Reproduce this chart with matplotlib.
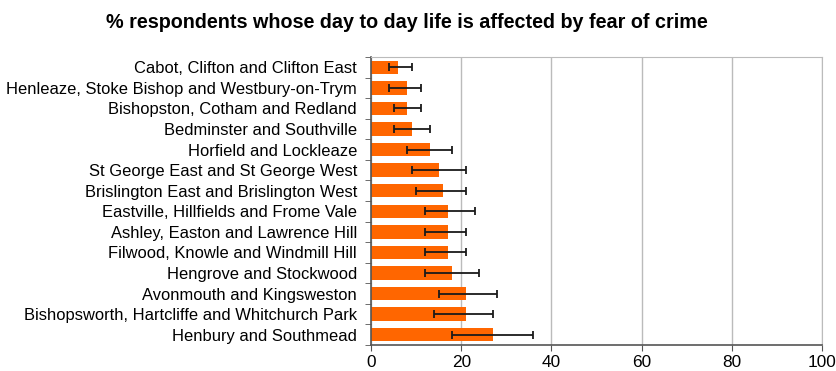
import matplotlib.pyplot as plt
import numpy as np

plt.rcParams['font.family'] = ['Liberation Sans', 'DejaVu Sans']

areas = [
    'Cabot, Clifton and Clifton East',
    'Henleaze, Stoke Bishop and Westbury-on-Trym',
    'Bishopston, Cotham and Redland',
    'Bedminster and Southville',
    'Horfield and Lockleaze',
    'St George East and St George West',
    'Brislington East and Brislington West',
    'Eastville, Hillfields and Frome Vale',
    'Ashley, Easton and Lawrence Hill',
    'Filwood, Knowle and Windmill Hill',
    'Hengrove and Stockwood',
    'Avonmouth and Kingsweston',
    'Bishopsworth, Hartcliffe and Whitchurch Park',
    'Henbury and Southmead',
]
percent = [6, 8, 8, 9, 13, 15, 16, 17, 17, 17, 18, 21, 21, 27]
ci_low = [4, 4, 5, 5, 8, 9, 10, 12, 12, 12, 12, 15, 14, 18]
ci_high = [9, 11, 11, 13, 18, 21, 21, 23, 21, 21, 24, 28, 27, 36]

percent = np.array(percent)
xerr = [percent - np.array(ci_low), np.array(ci_high) - percent]
y = np.arange(len(areas))

fig = plt.figure(figsize=(8.36, 3.71), dpi=100)
ax = fig.add_axes([371 / 836, 1 - 345 / 371, (822 - 371) / 836, (345 - 57) / 371])

ax.barh(y, percent, height=0.65, color='#FF6600', zorder=2)
ax.errorbar(percent, y, xerr=xerr, fmt='none', ecolor='#1a1a1a',
            elinewidth=1.3, capsize=3, capthick=1.3, zorder=3)

ax.set_xlim(0, 100)
ax.set_ylim(len(areas) - 0.5, -0.5)
ax.set_xticks([0, 20, 40, 60, 80, 100])
ax.set_yticks(y)
ax.set_yticklabels(areas, fontsize=11.9)
ax.tick_params(axis='y', length=0, pad=10)
ax.tick_params(axis='x', labelsize=12.4, length=4, color='#555555')
# excel style tick marks between categories
ax.set_yticks(np.arange(len(areas) + 1) - 0.5, minor=True)
ax.tick_params(axis='y', which='minor', length=4, color='#555555')

ax.grid(axis='x', color='#bbbbbb', linewidth=1, zorder=0)
for side in ['top', 'right']:
    ax.spines[side].set_color('#bbbbbb')
for side in ['left', 'bottom']:
    ax.spines[side].set_color('#555555')
    ax.spines[side].set_linewidth(1.2)

fig.text(407 / 836, 1 - 22 / 371, '% respondents whose day to day life is affected by fear of crime',
         ha='center', va='center', fontsize=14.2, fontweight='bold')

fig.savefig('out.png', dpi=100)
